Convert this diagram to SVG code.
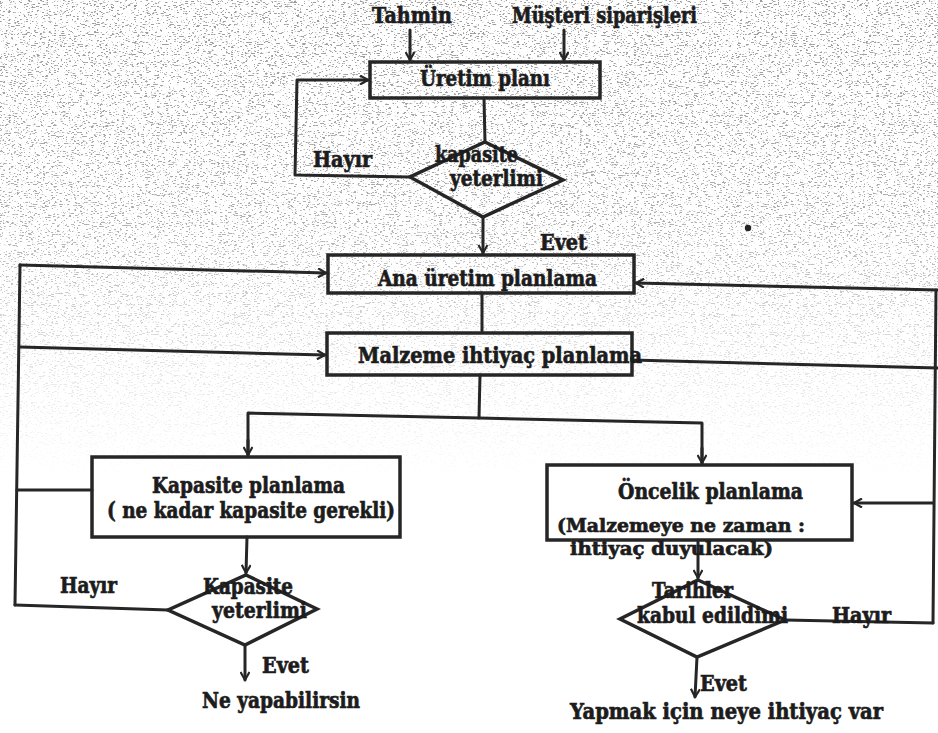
<svg xmlns="http://www.w3.org/2000/svg" width="938" height="733" viewBox="0 0 938 733">
  <defs>
    <style>
      .ln { fill: none; stroke: #262626; stroke-width: 3; stroke-linejoin: round; stroke-linecap: round; }
      .box { fill: none; stroke: #262626; stroke-width: 3.5; }
      .t { font-family: "DejaVu Serif", "Liberation Serif", serif; font-weight: bold; font-size: 22px; fill: #1c1c1c; stroke: #1c1c1c; stroke-width: 0.7; }
      .sm { font-size: 19px; }
    </style>
    <marker id="arr" viewBox="0 0 10 10" refX="9" refY="5" markerWidth="10" markerHeight="10" markerUnits="userSpaceOnUse" orient="auto">
      <path d="M1,0.5 L9,5 L1,9.5" fill="none" stroke="#262626" stroke-width="2.2"/>
    </marker>
    <!-- photocopy speckle, strongest at the top of the sheet -->
    <filter id="grain" x="0" y="0" width="100%" height="100%">
      <feTurbulence type="fractalNoise" baseFrequency="0.35 1.1" numOctaves="2" seed="7"/>
      <feColorMatrix type="matrix" values="0 0 0 0 0.25  0 0 0 0 0.25  0 0 0 0 0.25  12 0 0 0 -7.1"/>
    </filter>
    <linearGradient id="fade" x1="0" y1="0" x2="0" y2="1">
      <stop offset="0" stop-color="#fff" stop-opacity="0.85"/>
      <stop offset="0.45" stop-color="#fff" stop-opacity="0.7"/>
      <stop offset="0.75" stop-color="#fff" stop-opacity="0.25"/>
      <stop offset="1" stop-color="#fff" stop-opacity="0"/>
    </linearGradient>
    <mask id="fadeMask">
      <rect x="0" y="0" width="938" height="480" fill="url(#fade)"/>
    </mask>
  </defs>

  <rect x="0" y="0" width="938" height="733" fill="#ffffff"/>
  <g mask="url(#fadeMask)">
    <rect x="0" y="0" width="938" height="480" filter="url(#grain)"/>
  </g>
  <circle cx="748" cy="228" r="3.2" fill="#262626"/>

  <!-- connectors -->
  <g id="connectors">
    <path class="ln" d="M410,30 L410,60" marker-end="url(#arr)"/>
    <path class="ln" d="M564,30 L564,60" marker-end="url(#arr)"/>
    <path class="ln" d="M410,177 L295,175 L297,80 L368,80" marker-end="url(#arr)"/>
    <path class="ln" d="M484,98 L485,142"/>
    <path class="ln" d="M483,217 L483,253" marker-end="url(#arr)"/>
    <path class="ln" d="M482,293 L482,331" />
    <!-- left feedback rail -->
    <path class="ln" d="M20,265 L15,605"/>
    <path class="ln" d="M20,265 L326,273" marker-end="url(#arr)"/>
    <path class="ln" d="M20,347 L325,355" marker-end="url(#arr)"/>
    <path class="ln" d="M92,490 L17,490"/>
    <path class="ln" d="M168,610 L15,605"/>
    <!-- right feedback rail -->
    <path class="ln" d="M936,290 L933,623"/>
    <path class="ln" d="M938,290 L636,283" marker-end="url(#arr)"/>
    <path class="ln" d="M632,360 L938,368"/>
    <path class="ln" d="M933,503 L854,503" marker-end="url(#arr)"/>
    <path class="ln" d="M785,620 L933,623"/>
    <!-- split to capacity / priority planning -->
    <path class="ln" d="M480,375 L479,418"/>
    <path class="ln" d="M248,455 L248,413 L479,418 L702,423 L702,463" />
    <path class="ln" d="M248,440 L248,455" marker-end="url(#arr)"/>
    <path class="ln" d="M702,448 L702,463" marker-end="url(#arr)"/>
    <path class="ln" d="M247,537 L246,573" marker-end="url(#arr)"/>
    <path class="ln" d="M245,645 L245,680" marker-end="url(#arr)"/>
    <path class="ln" d="M698,540 L698,578" marker-end="url(#arr)"/>
    <path class="ln" d="M697,657 L695,697" marker-end="url(#arr)"/>
  </g>

  <g id="tahmin">
    <text class="t" x="372" y="23" textLength="80" lengthAdjust="spacingAndGlyphs">Tahmin</text>
  </g>
  <g id="musteri">
    <text class="t" x="512" y="23" textLength="185" lengthAdjust="spacingAndGlyphs">Müşteri siparişleri</text>
  </g>

  <g id="uretim-plani">
    <rect class="box" x="370" y="62" width="230" height="36"/>
    <text class="t" x="420" y="86" textLength="130" lengthAdjust="spacingAndGlyphs">Üretim planı</text>
  </g>

  <g id="karar-1">
    <polygon class="box" points="485,142 563,180 483,217 410,177"/>
    <text class="t" x="435" y="162" textLength="83" lengthAdjust="spacingAndGlyphs">kapasite</text>
    <text class="t" x="450" y="186" textLength="93" lengthAdjust="spacingAndGlyphs">yeterlimi</text>
    <text class="t" x="313" y="167" textLength="59" lengthAdjust="spacingAndGlyphs">Hayır</text>
    <text class="t" x="540" y="250" textLength="47" lengthAdjust="spacingAndGlyphs">Evet</text>
  </g>

  <g id="ana-uretim">
    <rect class="box" x="328" y="255" width="306" height="38"/>
    <text class="t" x="378" y="286" textLength="219" lengthAdjust="spacingAndGlyphs">Ana üretim planlama</text>
  </g>

  <g id="malzeme">
    <rect class="box" x="327" y="333" width="305" height="42"/>
    <text class="t" x="358" y="363" textLength="284" lengthAdjust="spacingAndGlyphs">Malzeme ihtiyaç planlama</text>
  </g>

  <g id="kapasite-planlama">
    <rect class="box" x="92" y="457" width="308" height="80"/>
    <text class="t" x="152" y="493" textLength="193" lengthAdjust="spacingAndGlyphs">Kapasite planlama</text>
    <text class="t" x="107" y="518" textLength="288" lengthAdjust="spacingAndGlyphs">( ne kadar kapasite gerekli)</text>
  </g>

  <g id="karar-2">
    <polygon class="box" points="246,575 317,609 245,645 168,610"/>
    <text class="t" x="203" y="594" textLength="90" lengthAdjust="spacingAndGlyphs">Kapasite</text>
    <text class="t" x="212" y="618" textLength="95" lengthAdjust="spacingAndGlyphs">yeterlimi</text>
    <text class="t" x="60" y="593" textLength="57" lengthAdjust="spacingAndGlyphs">Hayır</text>
    <text class="t" x="262" y="673" textLength="47" lengthAdjust="spacingAndGlyphs">Evet</text>
  </g>

  <g id="ne-yapabilirsin">
    <text class="t" x="202" y="708" textLength="158" lengthAdjust="spacingAndGlyphs">Ne yapabilirsin</text>
  </g>

  <g id="oncelik-planlama">
    <rect class="box" x="547" y="465" width="305" height="75"/>
    <text class="t" x="618" y="499" textLength="185" lengthAdjust="spacingAndGlyphs">Öncelik planlama</text>
    <text class="t sm" x="557" y="532" textLength="248" lengthAdjust="spacingAndGlyphs">(Malzemeye ne zaman :</text>
    <text class="t sm" x="570" y="555" textLength="203" lengthAdjust="spacingAndGlyphs">ihtiyaç duyulacak)</text>
  </g>

  <g id="karar-3">
    <polygon class="box" points="698,580 785,620 697,657 620,619"/>
    <text class="t" x="652" y="598" textLength="81" lengthAdjust="spacingAndGlyphs">Tarihler</text>
    <text class="t" x="637" y="623" textLength="151" lengthAdjust="spacingAndGlyphs">kabul edildimi</text>
    <text class="t" x="832" y="623" textLength="59" lengthAdjust="spacingAndGlyphs">Hayır</text>
    <text class="t" x="700" y="691" textLength="47" lengthAdjust="spacingAndGlyphs">Evet</text>
  </g>

  <g id="yapmak">
    <text class="t" x="570" y="719" textLength="313" lengthAdjust="spacingAndGlyphs">Yapmak için neye ihtiyaç var</text>
  </g>
</svg>
